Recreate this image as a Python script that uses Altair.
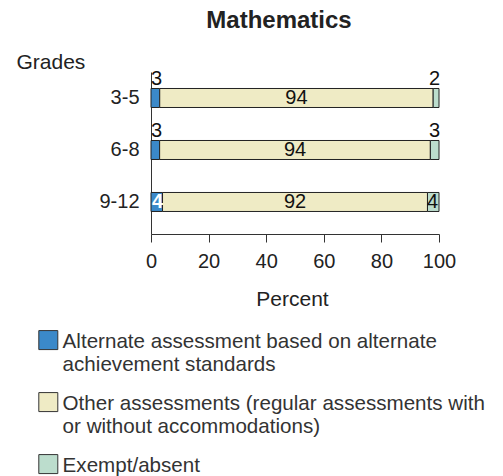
import altair as alt
import pandas as pd

grades = ["3-5", "6-8", "9-12"]
categories = [
    "Alternate assessment based on alternate achievement standards",
    "Other assessments (regular assessments with or without accommodations)",
    "Exempt/absent",
]
alternate = [3, 3, 4]
other = [94, 94, 92]
exempt = [2, 3, 4]
x_ticks = [0, 20, 40, 60, 80, 100]
colors = ["#3B89C9", "#EFEBC5", "#BCDDCD"]

rows = []
for i, g in enumerate(grades):
    for j, (cat, vals) in enumerate(zip(categories, [alternate, other, exempt])):
        rows.append({"grade": g, "category": cat, "order": j, "value": vals[i]})
df = pd.DataFrame(rows)

label_expr = (
    "datum.label == '" + categories[0] + "' ? ['Alternate assessment based on alternate', 'achievement standards'] : "
    "datum.label == '" + categories[1] + "' ? ['Other assessments (regular assessments with', 'or without accommodations)'] : datum.label"
)

FONT = "Liberation Sans"

base = alt.Chart(df).transform_stack(
    stack="value",
    groupby=["grade"],
    as_=["x0", "x1"],
    sort=[alt.SortField(field="order", order="ascending")],
    offset="normalize",
).transform_calculate(
    p0="datum.x0 * 100", p1="datum.x1 * 100", pm="(datum.x0 + datum.x1) * 50"
)

y_enc = alt.Y(
    "grade:N",
    sort=grades,
    scale=alt.Scale(paddingInner=0, paddingOuter=0.058, align=0),
    axis=alt.Axis(
        title="Grades",
        titleAngle=0,
        titleX=-135,
        titleY=-4,
        titleAlign="left",
        titleBaseline="alphabetic",
        titleFontSize=21,
        titleFontWeight="normal",
        titleColor="#222",
        labelFontSize=20,
        labelColor="#222",
        labelPadding=12,
        ticks=False,
        domainColor="#333",
    ),
)

# square symbol shifted down so it sits beside the first label line
symbol_path = "M-1,-0.18H1V1.82H-1Z"

bars = base.mark_bar(size=19, stroke="#222", strokeWidth=1).encode(
    x=alt.X(
        "p0:Q",
        scale=alt.Scale(domain=[0, 100], nice=False),
        axis=alt.Axis(
            values=x_ticks,
            title="Percent",
            titleFontSize=21,
            titleFontWeight="normal",
            titleColor="#222",
            titleX=141,
            titleY=71,
            titleAlign="center",
            titleBaseline="alphabetic",
            tickSize=8,
            tickColor="#333",
            domainColor="#333",
            labelPadding=9,
            labelFontSize=20,
            labelColor="#222",
            labelFlush=False,
            grid=False,
        ),
    ),
    x2="p1:Q",
    y=y_enc,
    color=alt.Color(
        "category:N",
        scale=alt.Scale(domain=categories, range=colors),
        legend=alt.Legend(
            title=None,
            orient="none",
            legendX=-113,
            legendY=250,
            direction="vertical",
            symbolType=symbol_path,
            symbolSize=361,
            symbolStrokeColor="#333",
            symbolStrokeWidth=1,
            symbolOpacity=1,
            labelFontSize=20.6,
            labelColor="#333",
            labelLimit=0,
            labelOffset=4,
            labelExpr=label_expr,
            labelBaseline="top",
            padding=0,
            rowPadding=8,
        ),
    ),
)

txt = dict(fontSize=20, color="#111")
yy = alt.Y("grade:N", sort=grades)

mid = base.transform_filter("datum.order == 1").mark_text(**txt).encode(
    x="pm:Q", y=yy, text="value:Q"
)
above_left = base.transform_filter("datum.order == 0 && datum.grade != '9-12'").mark_text(
    align="left", baseline="alphabetic", dy=-13, **txt
).encode(x="p0:Q", y=yy, text="value:Q")
above_right = base.transform_filter("datum.order == 2 && datum.grade != '9-12'").mark_text(
    align="right", baseline="alphabetic", dy=-13, dx=1, **txt
).encode(x="p1:Q", y=yy, text="value:Q")
inside_left = base.transform_filter("datum.order == 0 && datum.grade == '9-12'").mark_text(
    align="left", dx=1, fontSize=20, fontWeight="bold", color="white"
).encode(x="p0:Q", y=yy, text="value:Q")
inside_right = base.transform_filter("datum.order == 2 && datum.grade == '9-12'").mark_text(
    align="right", dx=-1, **txt
).encode(x="p1:Q", y=yy, text="value:Q")

chart = alt.layer(bars, mid, above_left, above_right, inside_left, inside_right).properties(
    width=288,
    height=162,
    title=alt.TitleParams(
        "Mathematics", fontSize=24, fontWeight="bold", anchor="middle", dx=-16, dy=-14, color="#222"
    ),
    padding={"left": 143, "top": 64, "right": 49, "bottom": 248},
    autosize=alt.AutoSizeParams(type="none"),
).configure(font=FONT).configure_view(stroke=None)

chart.save("out.html", embed_options={"renderer": "svg", "actions": False})
